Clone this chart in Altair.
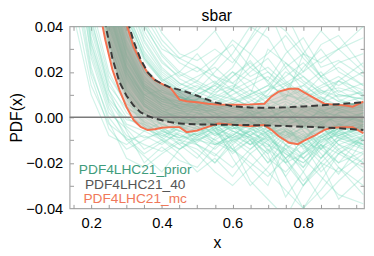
import altair as alt
import pandas as pd

# ---------------- data ----------------
X_GRID = [0.15, 0.2, 0.25, 0.3, 0.35, 0.4, 0.45, 0.5, 0.55, 0.6, 0.65, 0.7, 0.75, 0.8, 0.85, 0.9, 0.97]

# prior replicas, values in units of 1e-3
REPLICAS_MILLI = [
    [60, 18, -5, -14, -10, -6, -9, -4, -12, -8, -3, -15, -6, -10, -2, -8, -5],
    [75, 28, 4, -8, -12, -15, -10, -7, -3, -9, -14, -7, -18, -12, -6, -14, -9],
    [90, 35, 10, -3, -6, -2, -8, -11, -5, -2, -10, -20, -9, -4, -11, -3, -7],
    [110, 42, 16, 2, -4, -9, -3, 0, -6, -12, -5, -2, -12, -22, -9, -5, -12],
    [130, 50, 20, 5, -2, -5, -12, -18, -9, -3, 4, -6, -3, -8, -16, -25, -10],
    [70, 22, -2, -18, -22, -16, -11, -14, -20, -10, -6, -11, -26, -15, -9, -4, -6],
    [85, 30, 6, -10, -17, -24, -14, -9, -4, -14, -22, -30, -12, -7, -18, -10, -3],
    [100, 38, 12, -6, -20, -13, -19, -22, -13, -6, -9, -16, -35, -24, -12, -20, -15],
    [150, 85, 45, 22, 10, 6, 3, 2, -1, 0, 3, 1, -2, 4, 1, -1, 2],
    [160, 95, 52, 26, 13, 7, 5, 4, 2, -3, -1, 2, 5, -2, 3, 0, -2],
    [140, 80, 40, 18, 8, 3, 0, -2, 1, 4, 2, -3, 0, 1, -4, 2, 3],
    [170, 100, 56, 30, 15, 9, 6, 5, 3, 1, -2, -4, 2, 6, 2, -3, 1],
    [145, 84, 44, 20, 7, 2, -2, 0, -3, -1, 1, 4, 7, 3, -1, 4, 0],
    [155, 92, 48, 24, 12, 8, 7, 3, 5, 2, 0, -1, -3, -1, 2, 1, -4],
    [135, 75, 36, 15, 5, 1, 1, -3, -2, -5, -3, 0, 3, -4, 0, -2, 2],
    [165, 98, 55, 28, 14, 10, 4, 6, 0, 3, 5, 7, 10, 8, 3, 5, 4],
    [150, 88, 46, 21, 9, 4, 2, 1, 4, 6, 2, -5, -8, -5, -2, 0, -1],
    [175, 105, 60, 32, 16, 11, 8, 7, 6, 4, 7, 12, 15, 9, 5, 3, 6],
    [140, 78, 38, 14, 3, -1, -4, -6, -3, 0, -2, -6, -10, -13, -6, -3, -5],
    [160, 94, 50, 25, 12, 6, 3, 5, 8, 5, 1, 3, 0, -2, -5, -8, -3],
    [200, 130, 80, 48, 28, 18, 12, 9, 6, 10, 14, 18, 12, 6, 9, 4, 7],
    [220, 140, 90, 55, 34, 22, 15, 12, 16, 8, 5, 10, 20, 15, 8, 12, 6],
    [190, 120, 72, 42, 25, 16, 11, 14, 9, 13, 20, 26, 16, 10, 14, 18, 10],
    [240, 160, 100, 62, 40, 28, 20, 16, 12, 18, 25, 15, 9, 14, 20, 11, 15],
    [210, 135, 85, 50, 31, 20, 14, 18, 22, 15, 10, 30, 24, 16, 11, 7, 12],
    [260, 170, 110, 70, 45, 32, 24, 20, 26, 32, 22, 16, 28, 35, 22, 25, 18],
    [230, 150, 95, 58, 36, 24, 18, 22, 15, 12, 28, 40, 46, 30, 18, 24, 28],
    [250, 165, 105, 66, 42, 30, 26, 30, 38, 26, 18, 22, 15, 20, 32, 36, 22],
    [180, 110, 62, 34, 18, 10, 4, 8, 15, 22, 35, 48, 30, 20, 26, 30, 40],
    [150, 90, 48, 20, 6, -4, -10, -16, -24, -30, -22, -14, -26, -40, -32, -22, -30],
    [170, 102, 58, 30, 14, 5, -3, -12, -20, -12, -28, -36, -44, -30, -20, -36, -26],
    [160, 96, 50, 22, 8, 2, 6, 12, 20, 28, 40, 35, 22, 12, 6, 16, 24],
    [120, 62, 28, 8, -4, -10, -16, -24, -18, -26, -16, -24, -32, -40, -28, -16, -22],
    [145, 82, 42, 19, 10, 12, 8, 4, -6, -16, -10, -20, -14, -24, -36, -28, -18],
    [190, 118, 70, 40, 22, 14, 10, 4, 12, 20, 12, 6, -6, -18, -12, -22, -34],
    [135, 74, 34, 12, 2, -6, -2, 5, 10, 18, 24, 16, 8, 28, 38, 30, 20],
    [210, 132, 82, 46, 26, 16, 20, 28, 18, 12, 6, -2, -10, -4, 4, -6, -14],
    [125, 68, 32, 10, -2, -8, -5, 2, -4, -18, -30, -22, -12, -18, -26, -34, -38],
    [65, 20, 0, -10, -8, -12, -6, -2, -8, -4, -12, -6, -2, -14, -8, -3, -10],
    [80, 26, 2, -5, -14, -10, -4, -8, -2, -11, -6, -12, -20, -9, -4, -12, -16],
    [95, 33, 8, -1, -3, -7, -12, -6, -10, -5, -1, -8, -14, -18, -10, -6, -2],
    [105, 40, 14, 4, 0, -3, -6, -9, -14, -7, -12, -4, -8, -2, -14, -20, -8],
    [120, 46, 18, 6, 1, -1, -3, -5, -2, -6, -9, -13, -5, -10, -3, -9, -13],
    [115, 44, 12, 0, -5, -8, -10, -12, -16, -22, -14, -8, -18, -28, -20, -12, -8],
    [88, 32, 7, -4, -9, -7, -4, -10, -7, -3, -8, -18, -24, -16, -8, -15, -20],
    [230, 155, 98, 60, 38, 25, 17, 13, 10, 8, 12, 9, 14, 18, 12, 9, 11],
    [245, 162, 102, 64, 41, 27, 19, 15, 11, 14, 9, 12, 18, 24, 16, 10, 8],
    [215, 138, 88, 53, 33, 21, 15, 11, 8, 12, 16, 20, 14, 8, 13, 16, 9],
    [270, 180, 118, 76, 48, 34, 26, 22, 18, 15, 22, 28, 36, 26, 18, 14, 20],
    [205, 128, 78, 46, 29, 19, 13, 10, 14, 20, 16, 8, 4, 10, 18, 22, 14],
    [280, 190, 125, 82, 52, 37, 28, 25, 30, 24, 34, 44, 38, 28, 24, 30, 35],
    [195, 125, 76, 44, 27, 17, 11, 6, 3, 7, 10, 14, 22, 28, 18, 8, 4],
    [165, 100, 54, 27, 13, 8, 4, -2, -8, -4, 2, -8, -16, -22, -14, -6, -10],
    [155, 90, 47, 22, 9, 3, -1, -4, -10, -14, -8, -4, -20, -30, -18, -10, -14],
    [175, 108, 60, 31, 15, 9, 7, 10, 14, 9, 4, 12, 24, 18, 10, 16, 12],
    [185, 114, 66, 36, 20, 12, 9, 6, 2, -4, -8, -2, 6, -6, -14, -4, 2],
    [130, 70, 33, 12, 3, 0, -3, -8, -12, -8, -2, -10, -18, -10, -4, -12, -20],
    [145, 80, 40, 17, 6, 1, 2, 4, 6, 12, 8, 2, -4, -12, -24, -16, -8],
    [200, 125, 75, 44, 26, 17, 12, 16, 24, 34, 28, 20, 12, 22, 30, 20, 14],
    [125, 66, 30, 9, -3, -9, -14, -10, -6, -14, -20, -26, -18, -30, -22, -14, -24],
    [45, 10, -8, -12, -6, -10, -14, -8, -4, -10, -16, -10, -6, -12, -18, -8, -12],
    [52, 14, -3, -9, -16, -11, -7, -12, -17, -9, -5, -9, -15, -20, -12, -6, -4],
    [150, 86, 44, 21, 9, 4, 1, -1, -3, -5, -4, -7, -5, -9, -6, -4, -8],
    [158, 93, 50, 24, 11, 6, 4, 2, 0, 2, 4, 6, 8, 5, 2, 6, 9],
    [142, 79, 39, 16, 5, 0, -3, -5, -7, -9, -6, -3, -7, -12, -8, -5, -3],
    [168, 101, 57, 29, 14, 9, 6, 5, 6, 8, 5, 9, 12, 14, 9, 5, 3],
    [146, 83, 42, 18, 6, 1, -1, -4, -6, -3, -7, -10, -14, -8, -5, -9, -12],
    [162, 97, 53, 27, 13, 7, 4, 3, 1, -2, -5, -8, -4, 0, -3, -7, -5],
    [138, 76, 36, 13, 2, -3, -6, -8, -5, -8, -12, -9, -6, -11, -14, -10, -7],
    [172, 104, 59, 31, 16, 10, 7, 8, 9, 6, 10, 14, 10, 7, 11, 13, 10],
    [152, 89, 47, 22, 10, 5, 3, 0, -2, -6, -10, -6, -12, -16, -10, -8, -4],
    [156, 91, 48, 23, 10, 5, 2, -1, -5, -2, 0, -4, -9, -6, -12, -16, -10],
    [166, 99, 55, 28, 14, 8, 5, 7, 4, 0, -4, -1, 3, 8, 12, 7, 5],
    [132, 72, 34, 11, 0, -5, -8, -10, -12, -10, -8, -14, -20, -16, -11, -7, -12],
    [176, 107, 61, 33, 17, 11, 9, 7, 4, 6, 9, 5, -2, 2, 6, 10, 8],
    [148, 85, 43, 19, 7, 2, 0, -3, -4, -2, 1, -2, -6, -10, -3, 1, -2],
    [160, 95, 51, 25, 12, 7, 5, 3, 3, 5, 3, 0, 3, 1, -2, 2, 5],
    [144, 81, 41, 17, 5, 0, -2, -3, -1, -4, -8, -12, -16, -20, -13, -9, -6],
    [185, 115, 67, 37, 20, 13, 9, 5, 0, -3, 0, 4, 9, 12, 8, 3, -2],
    [128, 69, 31, 9, -1, -6, -9, -7, -11, -15, -10, -16, -8, -12, -20, -24, -16],
    [154, 90, 46, 20, 8, 3, 0, -2, 0, -3, -5, -2, 1, -4, -9, -5, -1],
    [164, 98, 54, 27, 13, 8, 6, 4, 2, 0, 2, 5, 2, -3, 1, 4, 7],
]

X40 = [0.20, 0.22, 0.24, 0.26, 0.28, 0.30, 0.32, 0.34, 0.36, 0.38, 0.40, 0.42, 0.44, 0.46,
       0.50, 0.55, 0.60, 0.65, 0.70, 0.75, 0.80, 0.85, 0.90, 0.95, 0.97]
UP40 = [0.14, 0.115, 0.093, 0.075, 0.058, 0.044, 0.0335, 0.0255, 0.0198, 0.0165, 0.0148, 0.0134,
        0.0125, 0.0117, 0.0095, 0.0066, 0.0049, 0.0043, 0.0042, 0.0044, 0.0048, 0.0053, 0.0058,
        0.0064, 0.0066]
LO40 = [0.08, 0.057, 0.041, 0.026, 0.0155, 0.0095, 0.0052, 0.0022, 0.0006, -0.0005, -0.0013,
        -0.002, -0.0025, -0.0028, -0.0031, -0.0032, -0.0033, -0.0034, -0.0036, -0.0038, -0.0041,
        -0.0044, -0.0048, -0.0053, -0.0056]

XMC = [0.20, 0.22, 0.24, 0.26, 0.28, 0.30, 0.32, 0.34, 0.36, 0.38, 0.40, 0.425, 0.45, 0.47,
       0.50, 0.53, 0.56, 0.60, 0.65, 0.69, 0.71, 0.73, 0.76, 0.785, 0.80, 0.83, 0.86, 0.88,
       0.92, 0.94, 0.97]
UPMC = [0.135, 0.11, 0.089, 0.071, 0.055, 0.041, 0.031, 0.0245, 0.0195, 0.0163, 0.0147, 0.0128,
        0.0078, 0.0071, 0.0066, 0.006, 0.0056, 0.0055, 0.0057, 0.006, 0.0092, 0.0113, 0.0126,
        0.0126, 0.0112, 0.0086, 0.006, 0.0057, 0.0052, 0.0047, 0.0069]
LOMC = [0.072, 0.05, 0.034, 0.021, 0.012, 0.0045, -0.0012, -0.0042, -0.0056, -0.0052, -0.0046,
        -0.0043, -0.0043, -0.0065, -0.0058, -0.0042, -0.0027, -0.0032, -0.0039, -0.0034, -0.0055,
        -0.0082, -0.0112, -0.0118, -0.0105, -0.0082, -0.0055, -0.0046, -0.0043, -0.0043, -0.0069]

LEGEND_LABELS = ["PDF4LHC21_prior", "PDF4LHC21_40", "PDF4LHC21_mc"]
LEGEND_COLORS = ["#3f9c7c", "#555555", "#f0785a"]

X_LABEL_TICKS = [0.2, 0.4, 0.6, 0.8]
X_MINOR_TICKS = [0.15, 0.2, 0.25, 0.3, 0.35, 0.4, 0.45, 0.5, 0.55, 0.6, 0.65, 0.7, 0.75, 0.8, 0.85, 0.9, 0.95]
Y_LABEL_TICKS = [-0.04, -0.02, 0.0, 0.02, 0.04]
Y_MINOR_TICKS = [-0.03, -0.02, -0.01, 0.0, 0.01, 0.02, 0.03]

# ---------------- tables ----------------
rep_rows = []
for i, vals in enumerate(REPLICAS_MILLI):
    for xv, v in zip(X_GRID, vals):
        rep_rows.append({"rep": i, "x": xv, "pdf": v / 1000.0})
rep_df = pd.DataFrame(rep_rows)

band40 = pd.DataFrame({"x": X40, "lo": LO40, "up": UP40})
bandmc = pd.DataFrame({"x": XMC, "lo": LOMC, "up": UPMC})
lines40 = pd.concat([
    pd.DataFrame({"x": X40, "pdf": UP40, "side": "up"}),
    pd.DataFrame({"x": X40, "pdf": LO40, "side": "lo"}),
])
linesmc = pd.concat([
    pd.DataFrame({"x": XMC, "pdf": UPMC, "side": "up"}),
    pd.DataFrame({"x": XMC, "pdf": LOMC, "side": "lo"}),
])

FONT = "Liberation Sans"
xscale = alt.Scale(domain=[0.139, 0.972], nice=False, zero=False)
yscale = alt.Scale(domain=[-0.04, 0.04], nice=False, zero=False)

tick_axis_common = dict(labels=False, domain=False, ticks=True, tickSize=4, offset=-4,
                        tickColor="#9a9a9a", tickWidth=1, grid=False, title=None)

reps = alt.Chart(rep_df).mark_line(clip=True, strokeWidth=1.2, opacity=0.33, color="#72d7b8").encode(
    x=alt.X("x:Q", scale=xscale, axis=alt.Axis(
        values=X_LABEL_TICKS, format=".1f", ticks=False, tickSize=0, domain=False, grid=False,
        labelFontSize=15, labelFont=FONT, labelColor="#000", labelPadding=8,
        title="x", titleFont=FONT, titleFontSize=16, titleFontWeight="normal", titlePadding=4)),
    y=alt.Y("pdf:Q", scale=yscale, axis=alt.Axis(
        values=Y_LABEL_TICKS, format=".2f", ticks=False, tickSize=0, domain=False, grid=False,
        labelFontSize=15, labelFont=FONT, labelColor="#000", labelPadding=7,
        title="PDF(x)", titleFont=FONT, titleFontSize=16, titleFontWeight="normal", titlePadding=1)),
    detail="rep:N",
)

area40 = alt.Chart(band40).mark_area(clip=True, color="#5f7d6d", opacity=0.45).encode(
    x=alt.X("x:Q", scale=xscale, axis=alt.Axis(values=X_MINOR_TICKS, orient="bottom", **tick_axis_common)),
    y=alt.Y("lo:Q", scale=yscale, axis=alt.Axis(values=Y_MINOR_TICKS, orient="left", **tick_axis_common)),
    y2="up:Q",
)

areamc = alt.Chart(bandmc).mark_area(clip=True, color="#b9a99e", opacity=0.42).encode(
    x=alt.X("x:Q", scale=xscale, axis=alt.Axis(values=X_MINOR_TICKS, orient="top", **tick_axis_common)),
    y=alt.Y("lo:Q", scale=yscale, axis=alt.Axis(values=Y_MINOR_TICKS, orient="right", **tick_axis_common)),
    y2="up:Q",
)

zero = alt.Chart(pd.DataFrame({"v": [0.0]})).mark_rule(color="#7a7a7a", strokeWidth=1.5).encode(
    y=alt.Y("v:Q", scale=yscale, axis=None)
)

mc_lines = alt.Chart(linesmc).mark_line(clip=True, color="#f4714f", strokeWidth=2).encode(
    x=alt.X("x:Q", scale=xscale, axis=None),
    y=alt.Y("pdf:Q", scale=yscale, axis=None),
    detail="side:N",
)

lines_40 = alt.Chart(lines40).mark_line(clip=True, color="#3a3a3a", strokeWidth=2, strokeDash=[7, 4]).encode(
    x=alt.X("x:Q", scale=xscale, axis=None),
    y=alt.Y("pdf:Q", scale=yscale, axis=None),
    detail="side:N",
)

texts = []
for i, (lab, col) in enumerate(zip(LEGEND_LABELS, LEGEND_COLORS)):
    texts.append(
        alt.Chart(pd.DataFrame({"t": [lab]})).mark_text(
            font=FONT, fontSize=14, color=col, align="center", baseline="middle"
        ).encode(text="t:N", x=alt.value(67), y=alt.value(147 + 15 * i))
    )

chart = alt.layer(reps, area40, areamc, zero, mc_lines, lines_40, *texts).resolve_axis(
    x="independent", y="independent"
).properties(
    width=301, height=186,
    title=alt.TitleParams("sbar", font=FONT, fontSize=16, fontWeight="normal", color="#000",
                          anchor="middle", offset=-5),
    autosize=alt.AutoSizeParams(type="none"),
    padding={"left": 63, "top": 16, "right": 2, "bottom": 48},
).configure_view(stroke="#a8a8a8", strokeWidth=1.2)

chart.save("out.html", embed_options={"renderer": "svg", "actions": False})
